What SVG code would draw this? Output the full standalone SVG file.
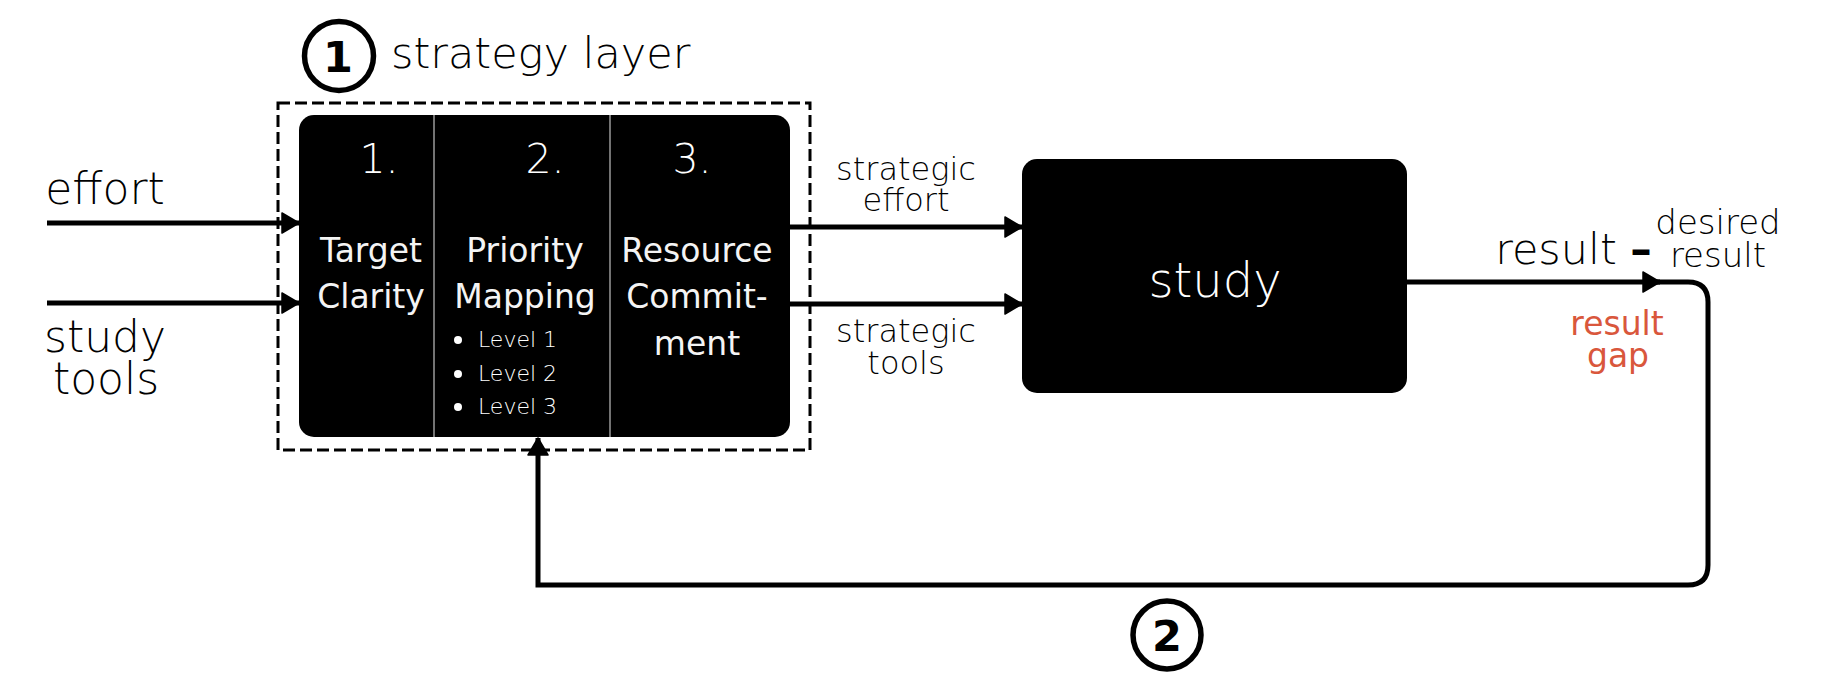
<svg xmlns="http://www.w3.org/2000/svg" width="1847" height="696" viewBox="0 0 1847 696">
<style>
.t{font-family:"DejaVu Sans","Open Sans",sans-serif;font-weight:200;fill:#000}
.w{font-family:"DejaVu Sans","Open Sans",sans-serif;font-weight:200;fill:#fff}
.wr{font-family:"DejaVu Sans","Open Sans",sans-serif;font-weight:400;fill:#f4f4f4}
.red{font-family:"DejaVu Sans","Open Sans",sans-serif;font-weight:400;fill:#d9573c}
.num{font-family:"DejaVu Sans","Open Sans",sans-serif;font-weight:bold;fill:#000}
.c{stroke:#000;stroke-width:5;fill:none}
.badge{stroke:#000;stroke-width:5.5;fill:#fff}
.box{fill:#000}
.div{stroke:#9a9a9a;stroke-width:1.5}
</style>
<defs>
<marker id="ah" markerUnits="userSpaceOnUse" markerWidth="20" markerHeight="22" refX="17" refY="10" orient="auto" viewBox="-1 -1 20 22">
<path d="M0,0 L17,10 L0,20 Z" fill="#000" stroke="#000" stroke-width="1.5" stroke-linejoin="round"/>
</marker>
</defs>
<rect width="1847" height="696" fill="#fff"/>

<g id="connectors">
<path class="c" d="M47,223 H299" marker-end="url(#ah)"/>
<path class="c" d="M47,303 H299" marker-end="url(#ah)"/>
<path class="c" d="M790,227 H1022" marker-end="url(#ah)"/>
<path class="c" d="M790,304 H1022" marker-end="url(#ah)"/>
<path class="c" d="M1655,282 H1688 Q1708,282 1708,302 V565 Q1708,585 1688,585 H538 V438" marker-end="url(#ah)"/>
<path class="c" d="M1407,282 H1660" marker-end="url(#ah)"/>
</g>

<g id="input-labels">
<text class="t" x="105" y="204" font-size="44" text-anchor="middle">effort</text>
<text class="t" x="105" y="352" font-size="44" text-anchor="middle">study</text>
<text class="t" x="106" y="394" font-size="44" text-anchor="middle">tools</text>
</g>

<g id="strategy-layer">
<rect x="278" y="103" width="532" height="347" fill="none" stroke="#000" stroke-width="3" stroke-dasharray="12 5"/>
<circle class="badge" cx="339" cy="56" r="34.5"/>
<text class="num" x="338" y="72" font-size="43" text-anchor="middle">1</text>
<text class="t" x="391" y="68" font-size="43">strategy layer</text>
</g>

<g id="strategy-block">
<rect class="box" x="299" y="115" width="491" height="322" rx="15"/>
<line class="div" x1="434" y1="115" x2="434" y2="437"/>
<line class="div" x1="610" y1="115" x2="610" y2="437"/>
<text class="w" x="379" y="173" font-size="41" text-anchor="middle">1.</text>
<text class="w" x="545" y="173" font-size="41" text-anchor="middle">2.</text>
<text class="w" x="692" y="173" font-size="41" text-anchor="middle">3.</text>
<text class="wr" x="371" y="262" font-size="33" text-anchor="middle">Target</text>
<text class="wr" x="371" y="308" font-size="33" text-anchor="middle">Clarity</text>
<text class="wr" x="525" y="262" font-size="33" text-anchor="middle">Priority</text>
<text class="wr" x="525" y="308" font-size="33" text-anchor="middle">Mapping</text>
<text class="wr" x="697" y="262" font-size="33" text-anchor="middle">Resource</text>
<text class="wr" x="697" y="308" font-size="33" text-anchor="middle">Commit-</text>
<text class="wr" x="697" y="355" font-size="33" text-anchor="middle">ment</text>
<circle cx="458" cy="340" r="4" fill="#fff"/>
<circle cx="458" cy="374" r="4" fill="#fff"/>
<circle cx="458" cy="407" r="4" fill="#fff"/>
<text class="w" x="478" y="347" font-size="22">Level 1</text>
<text class="w" x="478" y="381" font-size="22">Level 2</text>
<text class="w" x="478" y="414" font-size="22">Level 3</text>
</g>

<g id="strategic-labels">
<text class="t" x="906" y="180" font-size="32" text-anchor="middle">strategic</text>
<text class="t" x="906" y="211" font-size="32" text-anchor="middle">effort</text>
<text class="t" x="906" y="342" font-size="32" text-anchor="middle">strategic</text>
<text class="t" x="906" y="374" font-size="32" text-anchor="middle">tools</text>
</g>

<g id="study">
<rect class="box" x="1022" y="159" width="385" height="234" rx="15"/>
<text class="w" x="1215" y="297" font-size="48" text-anchor="middle">study</text>
</g>

<g id="result-labels">
<text class="t" x="1556" y="264" font-size="43" text-anchor="middle">result</text>
<text class="num" x="1641" y="264" font-size="43" text-anchor="middle">–</text>
<text class="t" x="1718" y="234" font-size="34" text-anchor="middle">desired</text>
<text class="t" x="1718" y="267" font-size="34" text-anchor="middle">result</text>
<text class="red" x="1617" y="335" font-size="33" text-anchor="middle">result</text>
<text class="red" x="1618" y="367" font-size="33" text-anchor="middle">gap</text>
</g>

<g id="loop-badge">
<circle class="badge" cx="1167" cy="635" r="34"/>
<text class="num" x="1167" y="651" font-size="43" text-anchor="middle">2</text>
</g>
</svg>
